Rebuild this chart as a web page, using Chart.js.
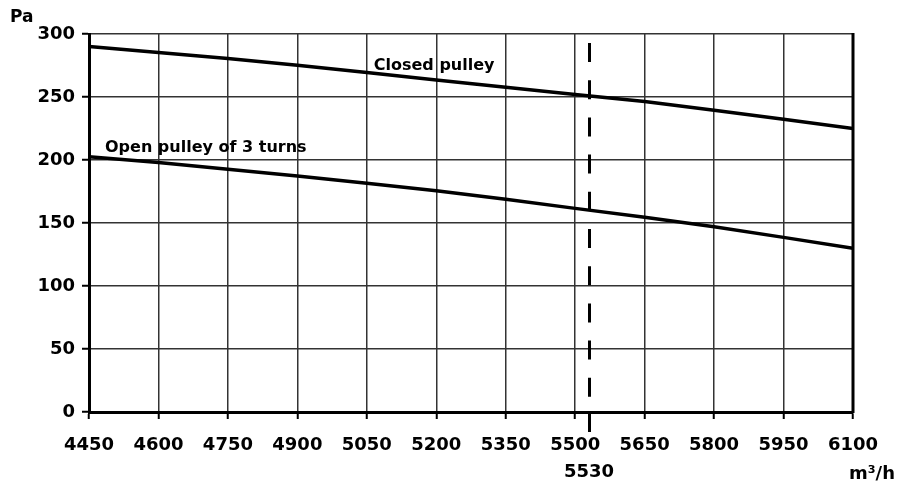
<!DOCTYPE html>
<html><head><meta charset="utf-8">
<style>html,body{margin:0;padding:0;background:#fff;}#wrap{width:901px;height:488px;}</style>
<script src="https://cdn.jsdelivr.net/npm/chart.js@4/dist/chart.umd.min.js"></script>
</head><body><div id="wrap"><canvas id="c" width="901" height="488"></canvas></div>
<script>
const flowTicks = [4450, 4600, 4750, 4900, 5050, 5200, 5350, 5500, 5650, 5800, 5950, 6100];
const closedPulley = [290, 285.4, 280.6, 275.2, 269.4, 263.5, 257.7, 252, 246.5, 239.5, 232.3, 225];
const openPulley3 = [202.5, 198, 192.6, 187.3, 181.5, 175.6, 168.8, 161.6, 154.5, 147, 138.6, 130];
const pressureTicks = [0, 50, 100, 150, 200, 250, 300];
const markFlow = 5530;
const seriesNames = ['Closed pulley', 'Open pulley of 3 turns'];
const nameAnchors = [[5065, 271.4], [4484.5, 206.3]];
const yUnit = 'Pa';
const xUnit = 'm³/h';

const FONT = 'DejaVu Sans';
const toPts = arr => arr.map((v, i) => ({x: flowTicks[i], y: v}));

const overlay = {
  id: 'overlay',
  afterDraw(chart) {
    const {ctx, chartArea: a, scales: {x, y}} = chart;
    ctx.save();
    // right frame
    ctx.strokeStyle = '#000'; ctx.lineWidth = 3;
    ctx.beginPath(); ctx.moveTo(a.right, a.top - 1); ctx.lineTo(a.right, a.bottom + 1); ctx.stroke();
    // dashed marker
    const mx = Math.round(x.getPixelForValue(markFlow)) + 0.5;
    ctx.lineWidth = 3;
    ctx.setLineDash([19, 18.2]);
    ctx.beginPath(); ctx.moveTo(mx, a.top + 9); ctx.lineTo(mx, a.bottom - 15); ctx.stroke();
    ctx.setLineDash([]);
    ctx.beginPath(); ctx.moveTo(mx, a.bottom); ctx.lineTo(mx, a.bottom + 20); ctx.stroke();
    // texts
    ctx.fillStyle = '#000';
    ctx.font = 'bold 16px "' + FONT + '"';
    ctx.textAlign = 'left'; ctx.textBaseline = 'alphabetic';
    seriesNames.forEach((t, i) => {
      ctx.fillText(t, x.getPixelForValue(nameAnchors[i][0]), y.getPixelForValue(nameAnchors[i][1]));
    });
    ctx.font = 'bold 17px "' + FONT + '"';
    ctx.fillText(yUnit, 10, 22);
    ctx.font = 'bold 18px "' + FONT + '"';
    ctx.textAlign = 'right';
    ctx.fillText(xUnit, 895, 479);
    ctx.restore();
  }
};

new Chart(document.getElementById('c'), {
  type: 'line',
  data: {
    datasets: [
      {label: seriesNames[0], data: toPts(closedPulley), borderColor: '#000', borderWidth: 3.5, pointRadius: 0, tension: 0, fill: false},
      {label: seriesNames[1], data: toPts(openPulley3), borderColor: '#000', borderWidth: 3.5, pointRadius: 0, tension: 0, fill: false}
    ]
  },
  options: {
    responsive: false, animation: false, devicePixelRatio: 1,
    layout: {padding: {left: 0, right: 48, top: 34, bottom: 0}},
    plugins: {legend: {display: false}, title: {display: false}, tooltip: {enabled: false}},
    scales: {
      x: {
        type: 'linear', min: flowTicks[0], max: flowTicks[flowTicks.length - 1],
        afterBuildTicks: s => { s.ticks = flowTicks.concat([markFlow]).sort((a, b) => a - b).map(v => ({value: v})); },
        afterFit: s => { s.height = 76; },
        ticks: {
          autoSkip: false, maxRotation: 0, minRotation: 0, padding: 13, color: '#000',
          font: {family: FONT, size: 18, weight: 'bold', lineHeight: 1.5},
          callback: v => v === markFlow ? ['', String(markFlow)] : String(v)
        },
        grid: {
          color: c => (c.tick && c.tick.value === markFlow) ? 'rgba(0,0,0,0)' : '#333',
          tickColor: c => (c.tick && c.tick.value === markFlow) ? 'rgba(0,0,0,0)' : '#000',
          lineWidth: 1.5, tickLength: 7, tickWidth: 2
        },
        border: {color: '#000', width: 3}
      },
      y: {
        min: 0, max: 300,
        afterBuildTicks: s => { s.ticks = pressureTicks.map(v => ({value: v})); },
        afterFit: s => { s.width = 89; },
        ticks: {padding: 7, color: '#000', font: {family: FONT, size: 18, weight: 'bold'}},
        grid: {color: '#333', lineWidth: 1.5, tickColor: '#000', tickLength: 7, tickWidth: 2},
        border: {color: '#000', width: 3}
      }
    }
  },
  plugins: [overlay]
});
</script></body></html>
